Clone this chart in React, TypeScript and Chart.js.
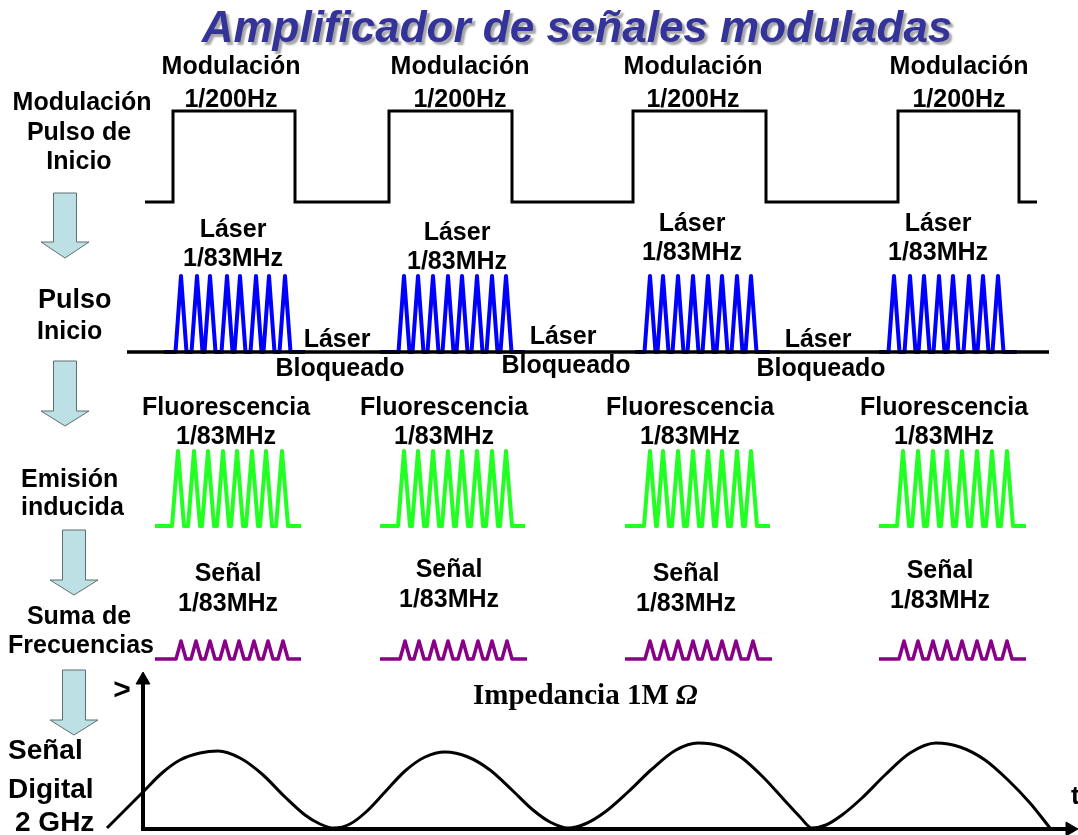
import React, { useEffect, useLayoutEffect, useRef } from "react";
import { Chart, registerables } from "chart.js";

Chart.register(...registerables);

const W = 1078;
const H = 835;
const FONT = '"Liberation Sans", Arial, Helvetica, sans-serif';
const SERIF = '"Liberation Serif", "Times New Roman", serif';

// ---- Modulation square wave (edge times and levels) ----
const modulationStart = 145;
const modulationEnd = 1037;
const modulationRises = [173, 389, 633, 898];
const modulationFalls = [295, 512, 766, 1019];
const modulationLow = 202;
const modulationHigh = 111;

// ---- Laser pulses (blue) ----
const laserLineStart = 127;
const laserLineEnd = 1049;
const laserBase = 352;
const laserPeak = 276;
const laserGroupStarts = [164, 380, 635, 879];
const laserGroupEnds = [305, 525, 770, 1017];
const laserPeaks = [
  [181, 197, 210, 227, 240, 256, 269, 285],
  [404, 418, 433, 448, 462, 477, 492, 506],
  [650, 663, 678, 693, 708, 722, 737, 751],
  [894, 910, 924, 939, 953, 969, 983, 998],
];

// ---- Fluorescence pulses (green) ----
const fluoBase = 526;
const fluoPeak = 451;
const fluoGroupStarts = [155, 380, 625, 879];
const fluoGroupEnds = [301, 525, 770, 1026];
const fluoPeaks = [
  [178, 194, 208, 223, 237, 252, 266, 282],
  [404, 418, 433, 448, 462, 477, 492, 506],
  [650, 663, 678, 693, 708, 722, 737, 751],
  [903, 918, 933, 947, 962, 977, 992, 1007],
];

// ---- Signal pulses (purple) ----
const signalBase = 659;
const signalPeak = 641;
const signalGroupStarts = [155, 380, 625, 879];
const signalGroupEnds = [301, 527, 772, 1026];
const signalPeaks = [
  [181, 196, 210, 225, 239, 254, 268, 283],
  [405, 419, 434, 448, 463, 478, 492, 507],
  [650, 664, 678, 693, 707, 722, 736, 753],
  [904, 918, 933, 947, 962, 977, 991, 1007],
];

// ---- Digital signal curve (2 GHz) ----
const curveT = [107, 125, 143, 162, 180, 200, 218, 240, 262, 285, 305, 320, 334, 350, 366, 385, 405, 425, 445, 468, 490, 512, 533, 550, 568, 585, 605, 628, 652, 676, 698, 720, 742, 764, 786, 800, 812, 826, 842, 862, 885, 910, 936, 960, 985, 1008, 1030, 1050];
const curveV = [828, 810, 792, 773, 760, 753, 751, 758, 774, 797, 815, 824, 828, 824, 812, 792, 771, 757, 752, 757, 770, 790, 810, 822, 828, 824, 812, 792, 769, 750, 743, 746, 758, 778, 802, 817, 828, 825, 815, 798, 775, 753, 743, 747, 760, 780, 803, 828];
const axisOriginX = 143;
const axisOriginY = 829;
const axisTopY = 682;
const axisRightX = 1066;

// ---- Down arrows ----
const arrowCenters = [65, 65, 74, 74];
const arrowTops = [193, 361, 530, 670];
const arrowHeadTops = [242, 411, 580, 720];
const arrowTips = [258, 426, 595, 735];

// ---- Texts ----
const titleText = "Amplificador de señales moduladas";
const modulationLabelX = [231, 460, 693, 959];
const laserLabelX = [233, 457, 692, 938];
const laserLabelY = [230, 233, 224, 224];
const blockedLabelX = [337, 563, 818];
const blockedLabelY = [340, 337, 340];
const fluoLabelX = [226, 444, 690, 944];
const signalLabelX = [228, 449, 686, 940];
const signalLabelY = [574, 570, 574, 571];

type TextItem = { t: string; x: number; y: number; size: number; align?: CanvasTextAlign };

const textItems: TextItem[] = [
  { t: "Modulación", x: 82, y: 103, size: 25 },
  { t: "Pulso de", x: 79, y: 133, size: 25 },
  { t: "Inicio", x: 79, y: 162, size: 25 },
  { t: "Pulso", x: 38, y: 301, size: 27, align: "left" },
  { t: "Inicio", x: 37, y: 332, size: 25, align: "left" },
  { t: "Emisión", x: 21, y: 480, size: 25, align: "left" },
  { t: "inducida", x: 21, y: 508, size: 25, align: "left" },
  { t: "Suma de", x: 79, y: 617, size: 25 },
  { t: "Frecuencias", x: 81, y: 646, size: 25 },
  { t: "Señal", x: 8, y: 751, size: 28, align: "left" },
  { t: "Digital", x: 8, y: 790, size: 28, align: "left" },
  { t: "2 GHz", x: 15, y: 823, size: 28, align: "left" },
  { t: ">", x: 122, y: 691, size: 30 },
  { t: "t", x: 1071, y: 797, size: 26, align: "left" },
];
modulationLabelX.forEach((x) => {
  textItems.push({ t: "Modulación", x, y: 67, size: 25 });
  textItems.push({ t: "1/200Hz", x, y: 100, size: 25 });
});
laserLabelX.forEach((x, i) => {
  textItems.push({ t: "Láser", x, y: laserLabelY[i], size: 25 });
  textItems.push({ t: "1/83MHz", x, y: laserLabelY[i] + 29, size: 25 });
});
blockedLabelX.forEach((x, i) => {
  textItems.push({ t: "Láser", x, y: blockedLabelY[i], size: 25 });
  textItems.push({ t: "Bloqueado", x: x + 3, y: blockedLabelY[i] + 29, size: 25 });
});
fluoLabelX.forEach((x) => {
  textItems.push({ t: "Fluorescencia", x, y: 408, size: 25 });
  textItems.push({ t: "1/83MHz", x, y: 437, size: 25 });
});
signalLabelX.forEach((x, i) => {
  textItems.push({ t: "Señal", x, y: signalLabelY[i], size: 25 });
  textItems.push({ t: "1/83MHz", x, y: signalLabelY[i] + 30, size: 25 });
});

type P = { x: number; y: number };

function squareWave(): P[] {
  const pts: P[] = [{ x: modulationStart, y: modulationLow }];
  modulationRises.forEach((r, i) => {
    pts.push({ x: r, y: modulationLow }, { x: r, y: modulationHigh });
    pts.push({ x: modulationFalls[i], y: modulationHigh }, { x: modulationFalls[i], y: modulationLow });
  });
  pts.push({ x: modulationEnd, y: modulationLow });
  return pts;
}

function pulseTrain(start: number, end: number, peaks: number[], hw: number, base: number, peak: number): P[] {
  const pts: P[] = [{ x: start, y: base }];
  peaks.forEach((p) => {
    pts.push({ x: p - hw, y: base }, { x: p, y: peak }, { x: p + hw, y: base });
  });
  pts.push({ x: end, y: base });
  return pts;
}

function arrowShape(i: number): P[] {
  const c = arrowCenters[i];
  const s = 11.5;
  const h = 24;
  return [
    { x: c - s, y: arrowTops[i] },
    { x: c + s, y: arrowTops[i] },
    { x: c + s, y: arrowHeadTops[i] },
    { x: c + h, y: arrowHeadTops[i] },
    { x: c, y: arrowTips[i] },
    { x: c - h, y: arrowHeadTops[i] },
    { x: c - s, y: arrowHeadTops[i] },
    { x: c - s, y: arrowTops[i] },
  ];
}

const textPlugin = {
  id: "diagramText",
  afterDatasetsDraw(chart: any) {
    const { ctx } = chart;
    const sx = chart.scales.x;
    const sy = chart.scales.y;
    ctx.save();
    ctx.textBaseline = "middle";
    ctx.font = `italic bold 44px ${FONT}`;
    ctx.textAlign = "center";
    ctx.shadowColor = "rgba(0,0,0,0.35)";
    ctx.shadowOffsetX = 3;
    ctx.shadowOffsetY = 3;
    ctx.shadowBlur = 2;
    ctx.fillStyle = "#333399";
    ctx.fillText(titleText, sx.getPixelForValue(577), sy.getPixelForValue(30));
    ctx.shadowColor = "rgba(0,0,0,0)";
    ctx.shadowOffsetX = 0;
    ctx.shadowOffsetY = 0;
    ctx.shadowBlur = 0;
    ctx.fillStyle = "#000";
    for (const it of textItems) {
      ctx.font = `bold ${it.size}px ${FONT}`;
      ctx.textAlign = it.align || "center";
      ctx.fillText(it.t, sx.getPixelForValue(it.x), sy.getPixelForValue(it.y));
    }
    ctx.textAlign = "left";
    const main = "Impedancia 1M ";
    ctx.font = `bold 29px ${SERIF}`;
    const x0 = sx.getPixelForValue(473);
    const y0 = sy.getPixelForValue(697);
    ctx.fillText(main, x0, y0);
    const w = ctx.measureText(main).width;
    ctx.font = `italic bold 29px ${SERIF}`;
    ctx.fillText("Ω", x0 + w, y0);
    ctx.restore();
  },
};

export default function App() {
  const ref = useRef<HTMLCanvasElement>(null);

  useLayoutEffect(() => {
    document.body.style.margin = "0";
    document.body.style.overflow = "hidden";
    document.documentElement.style.overflow = "hidden";
  }, []);

  useEffect(() => {
    const canvas = ref.current!;
    const line = (label: string, data: P[], color: string, width: number, extra: any = {}) => ({
      label,
      data,
      showLine: true,
      borderColor: color,
      backgroundColor: color,
      borderWidth: width,
      pointRadius: 0,
      fill: false,
      tension: 0,
      borderJoinStyle: "round",
      borderCapStyle: "butt",
      ...extra,
    });

    const datasets: any[] = [];
    arrowCenters.forEach((_, i) => {
      datasets.push(line("arrow" + i, arrowShape(i), "#5d6e70", 1, { fill: "shape", backgroundColor: "#bde0e4", borderJoinStyle: "miter" }));
    });
    datasets.push(line("Modulación", squareWave(), "#000", 3, { borderJoinStyle: "miter" }));
    datasets.push(line("base", [{ x: laserLineStart, y: laserBase }, { x: laserLineEnd, y: laserBase }], "#000", 3.5));
    laserPeaks.forEach((pk, i) => {
      datasets.push(line("Láser " + i, pulseTrain(laserGroupStarts[i], laserGroupEnds[i], pk, 5.5, laserBase, laserPeak), "#0000ff", 4));
    });
    fluoPeaks.forEach((pk, i) => {
      datasets.push(line("Fluorescencia " + i, pulseTrain(fluoGroupStarts[i], fluoGroupEnds[i], pk, 6, fluoBase, fluoPeak), "#22ff22", 4));
    });
    signalPeaks.forEach((pk, i) => {
      datasets.push(line("Señal " + i, pulseTrain(signalGroupStarts[i], signalGroupEnds[i], pk, 5, signalBase, signalPeak), "#880088", 3.5));
    });
    datasets.push(line("yAxis", [{ x: axisOriginX, y: axisOriginY + 2 }, { x: axisOriginX, y: axisTopY }], "#000", 4));
    datasets.push(line("xAxis", [{ x: axisOriginX - 2, y: axisOriginY }, { x: axisRightX, y: axisOriginY }], "#000", 4));
    datasets.push({
      label: "yArrow",
      data: [{ x: axisOriginX, y: axisTopY - 2 }],
      showLine: false,
      pointStyle: "triangle",
      pointRadius: 8,
      pointRotation: 0,
      pointBackgroundColor: "#000",
      pointBorderColor: "#000",
      pointBorderWidth: 1,
      clip: false,
    });
    datasets.push({
      label: "xArrow",
      data: [{ x: axisRightX + 4, y: axisOriginY }],
      showLine: false,
      pointStyle: "triangle",
      pointRadius: 8,
      pointRotation: 90,
      pointBackgroundColor: "#000",
      pointBorderColor: "#000",
      pointBorderWidth: 1,
      clip: false,
    });
    const curvePts = curveT.map((t, i) => ({ x: t, y: curveV[i] }));
    datasets.push(line("Señal Digital", curvePts, "#000", 3, { cubicInterpolationMode: "monotone", borderJoinStyle: "round" }));

    const chart = new Chart(canvas, {
      type: "scatter",
      data: { datasets },
      options: {
        animation: false,
        responsive: false,
        events: [],
        layout: { padding: 0, autoPadding: false },
        plugins: { legend: { display: false }, tooltip: { enabled: false } },
        scales: {
          x: { type: "linear", min: 0, max: W, display: false },
          y: { type: "linear", min: 0, max: H, reverse: true, display: false },
        },
      } as any,
      plugins: [textPlugin],
    });
    return () => chart.destroy();
  }, []);

  return (
    <div style={{ width: W, height: H, background: "#fff", overflow: "hidden" }}>
      <canvas ref={ref} width={W} height={H} style={{ display: "block", width: W, height: H }} />
    </div>
  );
}
